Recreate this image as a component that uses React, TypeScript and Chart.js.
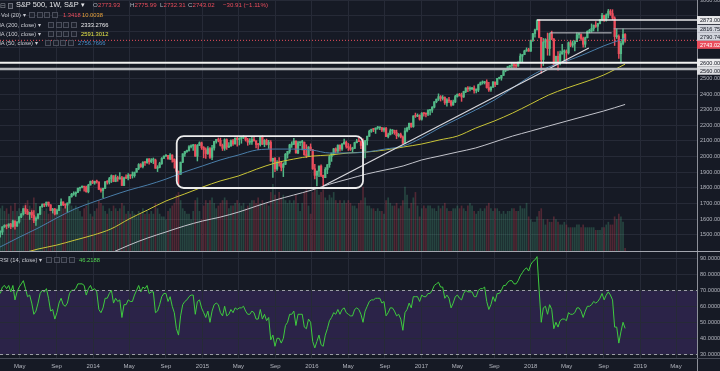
import React, { useEffect, useRef } from 'react';
import { Chart, registerables } from 'chart.js';

Chart.register(...registerables);

// ---------------- data ----------------
const firstWeek = '2013-02-25';
const firstOpen = 1515;

const closes = [
  1518,1551,1561,1556,1569,1553,1588,1555,1582,1614,1633,1667,1650,1631,1643,1626,1592,1606,1632,1680,1692,1691,1709,1691,1655,1664,1633,1655,1688,1710,1692,1690,1703,1744,1759,1762,1771,1798,1804,1806,1805,1775,1818,1841,1831,
  1842,1838,1790,1783,1797,1838,1836,1859,1878,1841,1866,1857,1865,1815,1864,1863,1881,1878,1878,1900,1924,1949,1936,1963,1961,1985,1967,1978,1978,1925,1931,1955,1988,2003,2007,1985,2010,1982,1967,1906,1887,1964,2018,2032,2039,2063,2068,2075,2002,2071,2088,2058,
  2044,2019,2051,1995,2055,2097,2110,2104,2071,2053,2108,2061,2067,2102,2081,2117,2108,2116,2123,2126,2107,2092,2094,2110,2101,2077,2076,2126,2079,2104,2077,2092,1971,1989,1921,1961,1958,1931,1951,2015,2033,2075,2079,2099,2023,2089,2090,2092,2012,2006,2061,2044,
  1922,1880,1907,1940,1880,1865,1918,1948,2000,2022,2050,2035,2073,2048,2081,2092,2065,2057,2047,2052,2089,2099,2096,2071,2037,2103,2130,2162,2175,2174,2183,2184,2184,2169,2180,2128,2139,2165,2168,2153,2133,2141,2126,2085,2164,2182,2213,2192,2260,2258,2264,2239,
  2277,2275,2271,2295,2297,2316,2351,2367,2383,2372,2378,2344,2363,2355,2329,2349,2384,2399,2390,2381,2416,2439,2432,2433,2438,2423,2425,2459,2472,2472,2477,2441,2426,2443,2477,2461,2500,2502,2519,2549,2553,2575,2581,2588,2582,2579,2602,2642,2652,2675,2683,2674,
  2743,2786,2810,2873,2762,2620,2732,2747,2691,2786,2752,2588,2641,2604,2656,2670,2670,2663,2728,2712,2721,2735,2779,2780,2755,2718,2760,2801,2802,2819,2840,2833,2850,2875,2902,2872,2905,2930,2914,2886,2767,2768,2658,2723,2781,2743.02,
];

const highs = [
  1525,1552,1564,1564,1570,1573,1594,1589,1585,1618,1635,1667,1687,1662,1644,1654,1654,1615,1635,1680,1698,1698,1709,1709,1693,1669,1669,1664,1688,1730,1711,1698,1704,1745,1765,1775,1774,1799,1804,1813,1806,1812,1823,1844,1849,
  1843,1850,1839,1798,1798,1841,1846,1867,1883,1878,1883,1875,1897,1873,1869,1884,1891,1881,1902,1901,1924,1955,1955,1968,1968,1985,1988,1988,1991,1984,1942,1964,1994,2005,2012,2008,2019,2011,1986,1977,1908,1965,2018,2034,2041,2071,2075,2079,2077,2077,2094,2093,
  2064,2056,2064,2057,2072,2097,2110,2119,2118,2080,2114,2114,2089,2107,2111,2120,2126,2121,2123,2134,2127,2117,2115,2127,2129,2101,2085,2126,2133,2109,2112,2104,2102,1990,1993,1975,1993,1970,1960,2020,2034,2079,2094,2116,2101,2097,2095,2104,2093,2076,2064,2081,
  2045,1950,1908,1940,1947,1881,1930,1949,2009,2022,2052,2056,2075,2075,2083,2112,2099,2084,2077,2060,2092,2110,2121,2101,2113,2103,2131,2169,2175,2177,2183,2193,2188,2187,2186,2187,2150,2176,2172,2169,2169,2148,2151,2133,2182,2189,2214,2214,2261,2278,2273,2267,
  2282,2279,2279,2301,2300,2319,2351,2368,2401,2390,2390,2382,2370,2378,2360,2361,2392,2400,2404,2406,2418,2440,2447,2446,2442,2453,2433,2463,2477,2484,2481,2491,2475,2448,2480,2477,2500,2508,2519,2552,2555,2575,2582,2597,2597,2593,2605,2657,2652,2680,2695,2692,
  2744,2788,2815,2873,2875,2763,2755,2754,2790,2786,2802,2755,2643,2672,2674,2718,2683,2682,2733,2742,2739,2742,2791,2790,2784,2764,2764,2804,2814,2848,2841,2863,2852,2877,2916,2905,2912,2941,2940,2939,2894,2817,2778,2736,2816,2786,
];

const lows = [
  1485,1501,1547,1538,1546,1539,1549,1536,1553,1574,1610,1626,1635,1630,1598,1609,1577,1560,1601,1629,1675,1679,1681,1682,1654,1639,1627,1633,1655,1687,1686,1670,1646,1703,1740,1752,1746,1770,1780,1799,1779,1772,1768,1818,1827,
  1823,1830,1790,1772,1738,1795,1824,1825,1834,1839,1839,1842,1856,1815,1814,1859,1851,1859,1862,1868,1900,1916,1930,1928,1944,1956,1952,1961,1955,1925,1904,1928,1950,1988,2001,1983,1980,1965,1926,1906,1821,1886,1961,2001,2027,2034,2055,2040,2002,1972,2070,2046,
  1992,1988,2014,1989,1980,2041,2085,2094,2067,2039,2040,2045,2057,2066,2072,2080,2067,2074,2085,2115,2099,2072,2077,2077,2098,2056,2044,2067,2077,2063,2074,2052,1971,1867,1903,1911,1938,1908,1872,1948,1990,2021,2059,2076,2022,2019,2070,2042,2008,1993,2005,2038,
  1918,1857,1812,1872,1872,1810,1865,1891,1931,1969,2009,2022,2023,2034,2039,2080,2053,2039,2039,2026,2052,2087,2096,2050,2026,1992,2074,2128,2155,2159,2148,2175,2172,2160,2157,2127,2119,2139,2145,2142,2114,2125,2119,2083,2084,2157,2172,2187,2187,2250,2255,2233,
  2233,2258,2254,2261,2267,2283,2311,2344,2358,2355,2361,2334,2322,2345,2322,2329,2345,2380,2387,2353,2378,2408,2415,2419,2428,2405,2407,2415,2457,2463,2464,2437,2417,2417,2442,2447,2459,2496,2488,2518,2542,2552,2557,2566,2566,2566,2576,2600,2605,2652,2673,2673,
  2673,2737,2763,2809,2758,2533,2582,2695,2648,2647,2747,2585,2586,2553,2586,2654,2612,2595,2655,2702,2699,2676,2734,2757,2743,2699,2699,2758,2791,2795,2803,2825,2802,2848,2867,2864,2866,2886,2903,2874,2710,2755,2628,2603,2714,2732,
];

const volumes = [
  16,17,15,16,14,17,15,18,15,16,15,17,18,19,17,16,20,18,14,15,16,15,16,14,16,15,16,15,17,18,16,17,18,19,17,16,17,16,15,13,16,17,19,14,13,
  15,16,19,18,17,15,14,16,15,17,16,15,16,18,17,14,15,14,15,14,13,15,14,16,14,15,14,15,14,18,16,14,13,13,12,15,16,17,18,21,22,19,16,15,14,14,12,15,19,20,15,12,
  17,19,18,19,20,18,16,17,18,19,20,19,16,17,17,18,19,18,17,18,16,17,18,19,19,18,20,18,19,18,18,17,22,25,21,19,22,20,21,19,18,19,18,19,21,18,15,18,22,23,17,14,
  22,24,23,21,22,23,20,19,21,20,22,19,18,19,18,19,18,19,18,17,17,16,18,19,24,20,17,17,16,16,15,16,15,15,14,19,20,18,17,17,18,16,17,19,24,21,16,18,20,22,17,13,
  16,17,16,17,17,16,16,15,17,16,17,18,16,15,15,16,16,17,16,17,16,15,17,18,17,15,14,15,16,15,16,17,18,16,15,16,16,15,14,15,14,15,15,16,16,15,15,17,16,16,18,13,
  12,11,11,13,15,16,12,10,12,11,11,13,12,11,10,10,11,10,9,9,9,9,10,10,9,10,9,9,9,9,9,8,8,8,9,9,10,11,10,10,13,12,14,13,11,1.34,
];

const rsi = [
  68,72,73,71,73,69,73,64,69,72,74,76,71,66,67,62,55,57,62,68,70,69,71,65,57,58,52,56,62,65,61,60,62,68,70,70,71,74,74,74,73,67,71,73,70,
  71,69,58,56,59,65,65,68,70,62,65,63,64,53,61,61,64,63,63,67,70,73,69,72,71,73,68,69,69,56,57,61,66,68,68,63,66,60,56,46,42,54,61,63,64,66,67,67,55,63,64,59,
  56,53,57,50,57,61,62,61,56,54,60,54,55,58,56,59,58,59,59,60,57,55,55,57,56,52,52,58,52,55,51,53,39,42,35,40,40,37,40,48,50,55,55,57,48,55,55,55,47,46,52,50,
  38,34,38,42,36,35,42,46,51,53,56,55,58,55,58,59,56,55,54,54,58,59,58,55,50,57,60,63,64,64,65,65,65,62,63,54,56,59,59,57,54,55,52,45,56,58,62,59,66,66,66,63,
  67,66,66,68,68,70,73,74,75,72,72,65,67,65,59,62,66,67,65,64,68,70,69,69,69,66,66,70,71,71,72,63,58,61,66,63,68,68,70,73,73,75,76,76,74,74,76,79,81,83,84,82,
  86,88,89,91,70,50,59,60,55,61,58,46,50,47,51,52,52,51,56,55,55,56,59,59,57,53,57,60,60,61,63,62,63,65,68,64,67,69,67,64,47,47,37,44,50,46.22,
];

const maDates = [
  '2013-02-24','2013-05-01','2013-07-01','2013-09-01','2013-11-01',
  '2014-01-01','2014-03-01','2014-05-01','2014-07-01','2014-09-01','2014-11-01',
  '2015-01-01','2015-03-01','2015-05-01','2015-07-01','2015-09-01','2015-11-01',
  '2016-01-01','2016-03-01','2016-05-01','2016-07-01','2016-09-01','2016-11-01',
  '2017-01-01','2017-03-01','2017-05-01','2017-07-01','2017-09-01','2017-11-01',
  '2018-01-01','2018-03-01','2018-05-01','2018-07-01','2018-09-01','2018-11-12',
];
const ma50 = [
  1422,1486,1543,1607,1665,
  1709,1748,1786,1818,1856,1901,
  1940,1978,2010,2042,2048,2048,
  2042,2023,2023,2029,2048,2067,
  2119,2182,2240,2298,2361,2438,
  2515,2572,2611,2656,2707,2756.77,
];
const ma100 = [
  null,1377,1409,1434,1466,
  1498,1537,1601,1658,1716,1760,
  1805,1844,1876,1920,1959,1984,
  2003,2010,2023,2029,2042,2061,
  2080,2106,2131,2182,2227,2278,
  2336,2393,2438,2477,2521,2591.3,
];
const ma200 = [
  null,null,null,null,null,
  1338,1383,1434,1479,1518,1556,
  1588,1613,1645,1684,1722,1754,
  1786,1824,1856,1888,1914,1940,
  1978,2003,2029,2055,2093,2131,
  2163,2195,2227,2259,2291,2333.28,
];

const trendDates = ['2016-02-08', '2018-07-14'];
const trendPrices = [1812, 2694];
const boxDates = ['2014-10-07', '2016-06-20'];
const boxPrices = [2131, 1799];
const levelPrices = [2873, 2816.75, 2790.74, 2600, 2560];
const levelFrom = ['2018-01-22', '2018-10-05', '2018-03-05', '', ''];
const levelTo = ['', '', '2018-09-28', '', ''];

const priceTicks = [1500,1600,1700,1800,1900,2000,2100,2200,2300,2400,2500,2600,2700,2800,2900,3000];
const rsiTicks = [30,40,50,60,70,80,90];
const rsiBand = [30, 70];
const xTickDates = ['2013-05-01','2013-09-01','2014-01-01','2014-05-01','2014-09-01','2015-01-01','2015-05-01','2015-09-01','2016-01-01','2016-05-01','2016-09-01','2017-01-01','2017-05-01','2017-09-01','2018-01-01','2018-05-01','2018-09-01','2019-01-01','2019-05-01'];
const xTickLabels = ['May','Sep','2014','May','Sep','2015','May','Sep','2016','May','Sep','2017','May','Sep','2018','May','Sep','2019','May'];

// ---------------- styles ----------------
const BG = '#161a25';
const GRID = '#262a37';
const AXIS_TEXT = '#b2b5be';
const AXIS_LINE = '#8d9099';
const UP = '#53b987';
const DOWN = '#eb4d5c';
const FONT = '"Liberation Sans", Arial, sans-serif';
const LEVEL_STYLE = [
  { color: '#e8e8ea', width: 1.5, box: '#e8e8ea' },
  { color: '#a3a6ae', width: 1, box: '#d1d4dc' },
  { color: '#c9cacf', width: 1, box: '#d1d4dc' },
  { color: '#f2f2f2', width: 2, box: '#ececee' },
  { color: '#b5b7bd', width: 2.5, box: '#dcdde1' },
];

const WEEK = 7 * 86400000;
const X_MIN = Date.UTC(2013, 1, 24);
const X_MAX = Date.UTC(2019, 6, 10);
const P_MIN = 1390;
const P_MAX = 3001;
const R_MIN = 27.7;
const R_MAX = 93.9;
const AXIS_W = 23;

export default function App() {
  const topRef = useRef<HTMLCanvasElement>(null);
  const botRef = useRef<HTMLCanvasElement>(null);

  useEffect(() => {
    const t0 = Date.parse(firstWeek);
    const opens = closes.map((c, i) => (i === 0 ? firstOpen : closes[i - 1]));
    const xs = closes.map((_, i) => t0 + i * WEEK);
    const isUp = (i: number) => closes[i] >= opens[i];
    const lastClose = closes[closes.length - 1];
    const xTicks = xTickDates.map((d) => Date.parse(d));
    const tickFont = { family: FONT, size: 5.6 };

    const maLine = (vals: any[], color: string) => ({
      type: 'line',
      data: maDates.map((d, k) => ({ x: Date.parse(d), y: vals[k] })),
      borderColor: color,
      borderWidth: 1,
      pointRadius: 0,
      cubicInterpolationMode: 'monotone',
      order: 3,
    });

    const levelSets = levelPrices.map((p, k) => ({
      type: 'line',
      data: [
        { x: levelFrom[k] ? Date.parse(levelFrom[k]) : X_MIN, y: p },
        { x: levelTo[k] ? Date.parse(levelTo[k]) : X_MAX, y: p },
      ],
      borderColor: LEVEL_STYLE[k].color,
      borderWidth: LEVEL_STYLE[k].width,
      pointRadius: 0,
      order: 0,
    }));

    const topDecor = {
      id: 'topDecor',
      afterDatasetsDraw(chart: any) {
        const { ctx, chartArea: a, scales } = chart;
        const x = scales.x, y = scales.y;
        ctx.save();
        ctx.beginPath();
        ctx.rect(a.left, a.top, a.right - a.left, a.bottom - a.top);
        ctx.clip();
        const x1 = x.getPixelForValue(Date.parse(boxDates[0]));
        const x2 = x.getPixelForValue(Date.parse(boxDates[1]));
        const y1 = y.getPixelForValue(boxPrices[0]);
        const y2 = y.getPixelForValue(boxPrices[1]);
        ctx.strokeStyle = '#ededed';
        ctx.lineWidth = 1.8;
        ctx.beginPath();
        (ctx as any).roundRect(x1, y1, x2 - x1, y2 - y1, 7);
        ctx.stroke();
        ctx.restore();
      },
      afterDraw(chart: any) {
        const { ctx, chartArea: a, scales, width, height } = chart;
        const y = scales.y;
        const items = levelPrices.map((p, k) => ({ p, bg: LEVEL_STYLE[k].box, fg: '#131722' }));
        items.push({ p: lastClose, bg: DOWN, fg: '#ffffff' });
        items.sort((u, v) => v.p - u.p);
        let prev = -100;
        ctx.save();
        ctx.font = `5.6px ${FONT}`;
        ctx.textBaseline = 'middle';
        ctx.textAlign = 'left';
        for (const it of items) {
          let yy = y.getPixelForValue(it.p);
          if (yy < prev + 8) yy = prev + 8;
          prev = yy;
          ctx.fillStyle = it.bg;
          ctx.fillRect(a.right, yy - 4, width - a.right, 8);
          ctx.fillStyle = it.fg;
          ctx.fillText(it.p.toFixed(2), a.right + 3, yy + 0.3);
        }
        ctx.strokeStyle = '#a3a6af';
        ctx.lineWidth = 1;
        ctx.beginPath();
        ctx.moveTo(0, height - 0.5);
        ctx.lineTo(width, height - 0.5);
        ctx.stroke();
        ctx.restore();
      },
    };

    const top = new Chart(topRef.current as HTMLCanvasElement, {
      type: 'bar',
      data: {
        datasets: [
          ...levelSets,
          {
            type: 'line',
            data: trendDates.map((d, k) => ({ x: Date.parse(d), y: trendPrices[k] })),
            borderColor: '#d9d9de',
            borderWidth: 1.2,
            pointRadius: 0,
            order: 0,
          },
          {
            type: 'line',
            data: [{ x: X_MIN, y: lastClose }, { x: X_MAX, y: lastClose }],
            borderColor: DOWN,
            borderWidth: 1,
            borderDash: [1, 2],
            pointRadius: 0,
            order: 0,
          },
          maLine(ma50, '#4a7ea9'),
          maLine(ma100, '#c9c537'),
          maLine(ma200, '#c3c4cc'),
          {
            type: 'bar',
            data: xs.map((x, i) => ({ x, y: [opens[i], closes[i]] })),
            backgroundColor: (c: any) => (isUp(c.dataIndex) ? UP : DOWN),
            barThickness: 1.6,
            minBarLength: 1,
            grouped: false,
            order: 4,
          },
          {
            type: 'bar',
            data: xs.map((x, i) => ({ x, y: [lows[i], highs[i]] })),
            backgroundColor: (c: any) => (isUp(c.dataIndex) ? UP : DOWN),
            barThickness: 0.8,
            grouped: false,
            order: 5,
          },
          {
            type: 'bar',
            yAxisID: 'vol',
            data: xs.map((x, i) => ({ x, y: volumes[i] })),
            backgroundColor: (c: any) =>
              isUp(c.dataIndex) ? 'rgba(83,185,135,0.27)' : 'rgba(235,77,92,0.27)',
            barThickness: 1,
            grouped: false,
            order: 10,
          },
        ] as any,
      },
      options: {
        responsive: false,
        maintainAspectRatio: false,
        animation: false,
        events: [],
        layout: { padding: 0, autoPadding: false } as any,
        plugins: { legend: { display: false }, tooltip: { enabled: false } },
        scales: {
          x: {
            type: 'linear',
            min: X_MIN,
            max: X_MAX,
            offset: false,
            grid: { color: GRID, drawTicks: false, offset: false },
            border: { display: false },
            ticks: { display: false },
            afterBuildTicks: (s: any) => { s.ticks = xTicks.map((v) => ({ value: v })); },
            afterFit: (s: any) => { s.height = 0; s.paddingLeft = 0; s.paddingRight = 0; },
          },
          y: {
            type: 'linear',
            position: 'right',
            min: P_MIN,
            max: P_MAX,
            beginAtZero: false,
            grid: { color: GRID, drawTicks: false },
            border: { display: true, color: AXIS_LINE },
            ticks: {
              color: AXIS_TEXT,
              font: tickFont,
              padding: 3,
              callback: (v: any) =>
                levelPrices.concat([lastClose]).some((l) => Math.abs(l - v) < 55) ? '' : Number(v).toFixed(2),
            },
            afterBuildTicks: (s: any) => { s.ticks = priceTicks.map((v) => ({ value: v })); },
            afterFit: (s: any) => { s.width = AXIS_W; s.paddingTop = 0; s.paddingBottom = 0; },
          },
          vol: {
            type: 'linear',
            position: 'left',
            display: false,
            min: 0,
            max: 93,
            afterFit: (s: any) => { s.width = 0; },
          },
        } as any,
      },
      plugins: [topDecor],
    } as any);

    const botDecor = {
      id: 'botDecor',
      beforeDraw(chart: any) {
        const { ctx, chartArea: a, scales } = chart;
        const y = scales.y;
        const yTop = y.getPixelForValue(rsiBand[1]);
        const yBot = y.getPixelForValue(rsiBand[0]);
        ctx.save();
        ctx.fillStyle = 'rgba(120,70,200,0.22)';
        ctx.fillRect(a.left, yTop, a.right - a.left, yBot - yTop);
        ctx.restore();
      },
      afterDatasetsDraw(chart: any) {
        const { ctx, chartArea: a, scales } = chart;
        const y = scales.y;
        ctx.save();
        ctx.strokeStyle = '#9c9ea6';
        ctx.lineWidth = 1;
        ctx.setLineDash([3, 3]);
        for (const v of rsiBand) {
          const yy = Math.round(y.getPixelForValue(v)) + 0.5;
          ctx.beginPath();
          ctx.moveTo(a.left, yy);
          ctx.lineTo(a.right, yy);
          ctx.stroke();
        }
        ctx.restore();
      },
      afterDraw(chart: any) {
        const { ctx, chartArea: a, width, height } = chart;
        ctx.save();
        ctx.strokeStyle = AXIS_LINE;
        ctx.lineWidth = 1;
        ctx.beginPath();
        ctx.moveTo(a.right + 0.5, 0);
        ctx.lineTo(a.right + 0.5, height);
        ctx.stroke();
        ctx.strokeStyle = '#4a4e5a';
        ctx.beginPath();
        ctx.moveTo(0, a.bottom + 0.5);
        ctx.lineTo(width, a.bottom + 0.5);
        ctx.stroke();
        ctx.restore();
      },
    };

    const bot = new Chart(botRef.current as HTMLCanvasElement, {
      type: 'line',
      data: {
        datasets: [
          {
            data: xs.map((x, i) => ({ x, y: rsi[i] })),
            borderColor: '#3fcb3f',
            borderWidth: 1,
            pointRadius: 0,
            tension: 0,
          },
        ] as any,
      },
      options: {
        responsive: false,
        maintainAspectRatio: false,
        animation: false,
        events: [],
        layout: { padding: 0, autoPadding: false } as any,
        plugins: { legend: { display: false }, tooltip: { enabled: false } },
        scales: {
          x: {
            type: 'linear',
            min: X_MIN,
            max: X_MAX,
            grid: { color: GRID, drawTicks: false },
            border: { display: false },
            ticks: {
              color: AXIS_TEXT,
              font: { family: FONT, size: 6 },
              padding: 5,
              autoSkip: false,
              maxRotation: 0,
              callback: (_v: any, idx: number) => xTickLabels[idx],
            },
            afterBuildTicks: (s: any) => { s.ticks = xTicks.map((v) => ({ value: v })); },
            afterFit: (s: any) => { s.height = 13; s.paddingLeft = 0; s.paddingRight = 0; },
          },
          y: {
            type: 'linear',
            position: 'right',
            min: R_MIN,
            max: R_MAX,
            grid: { color: GRID, drawTicks: false },
            border: { display: false },
            ticks: {
              color: AXIS_TEXT,
              font: tickFont,
              padding: 3,
              callback: (v: any) => Number(v).toFixed(4),
            },
            afterBuildTicks: (s: any) => { s.ticks = rsiTicks.map((v) => ({ value: v })); },
            afterFit: (s: any) => { s.width = AXIS_W; s.paddingTop = 0; s.paddingBottom = 0; },
          },
        } as any,
      },
      plugins: [botDecor],
    } as any);

    return () => {
      top.destroy();
      bot.destroy();
    };
  }, []);

  const txt = (left: number, topY: number, text: string, color: string, size: number) => (
    <span
      style={{
        position: 'absolute',
        left,
        top: topY - size * 0.55,
        fontSize: size,
        lineHeight: `${size * 1.1}px`,
        color,
        whiteSpace: 'nowrap',
        fontFamily: FONT,
      }}
    >
      {text}
    </span>
  );

  const icons = (left: number, cy: number) => (
    <div style={{ position: 'absolute', left, top: cy - 3, display: 'flex', gap: 1.5 }}>
      {[0, 1, 2, 3].map((k) => (
        <div key={k} style={{ width: 4, height: 4, border: '1px solid #4a4e5b', background: '#1d212c' }} />
      ))}
    </div>
  );

  return (
    <div
      style={{
        position: 'fixed',
        left: 0,
        top: 0,
        width: 720,
        height: 371,
        overflow: 'hidden',
        background: BG,
      }}
    >
      <canvas ref={topRef} width={720} height={252} style={{ position: 'absolute', left: 0, top: 0, display: 'block' }} />
      <canvas ref={botRef} width={720} height={119} style={{ position: 'absolute', left: 0, top: 252, display: 'block' }} />

      {/* header legend */}
      {txt(0, 5.5, '⊟', '#9598a1', 7)}
      <div style={{ position: 'absolute', left: 8, top: 3, width: 3, height: 4, border: '1px solid #6a6d78', background: '#2a2e39' }} />
      {txt(16, 5.5, 'S&P 500, 1W, S&P ▾', '#e6e7ea', 7.4)}
      {txt(93, 5.8, 'O', '#b2b5be', 6.1)}
      {txt(98, 5.8, '2773.93', DOWN, 6.1)}
      {txt(130, 5.8, 'H', '#b2b5be', 6.1)}
      {txt(134.5, 5.8, '2775.99', DOWN, 6.1)}
      {txt(160, 5.8, 'L', '#b2b5be', 6.1)}
      {txt(163.5, 5.8, '2732.31', DOWN, 6.1)}
      {txt(188, 5.8, 'C', '#b2b5be', 6.1)}
      {txt(192.5, 5.8, '2743.02', DOWN, 6.1)}
      {txt(223, 5.8, '−30.91 (−1.11%)', DOWN, 6.1)}

      {txt(1, 15, 'Vol (20) ▾', '#c8cad1', 5.8)}
      {icons(29, 15)}
      {txt(63, 15, '1.3418', DOWN, 5.8)}
      {txt(82, 15, '10.0038', '#e9a23b', 5.8)}

      {txt(-4, 24.7, 'MA (200, close) ▾', '#c8cad1', 5.8)}
      {icons(48, 24.7)}
      {txt(81, 24.7, '2333.2766', '#ececee', 5.8)}

      {txt(-4, 33.8, 'MA (100, close) ▾', '#c8cad1', 5.8)}
      {icons(48, 33.8)}
      {txt(81, 33.8, '2591.3012', '#e6e64a', 5.8)}

      {txt(-4, 43, 'MA (50, close) ▾', '#c8cad1', 5.8)}
      {icons(45, 43)}
      {txt(78, 43, '2756.7666', '#4a8ac4', 5.8)}

      {txt(-1, 259.8, 'RSI (14, close) ▾', '#c8cad1', 5.8)}
      {icons(46, 259.8)}
      {txt(79, 259.8, '46.2188', '#52d452', 5.8)}
    </div>
  );
}
